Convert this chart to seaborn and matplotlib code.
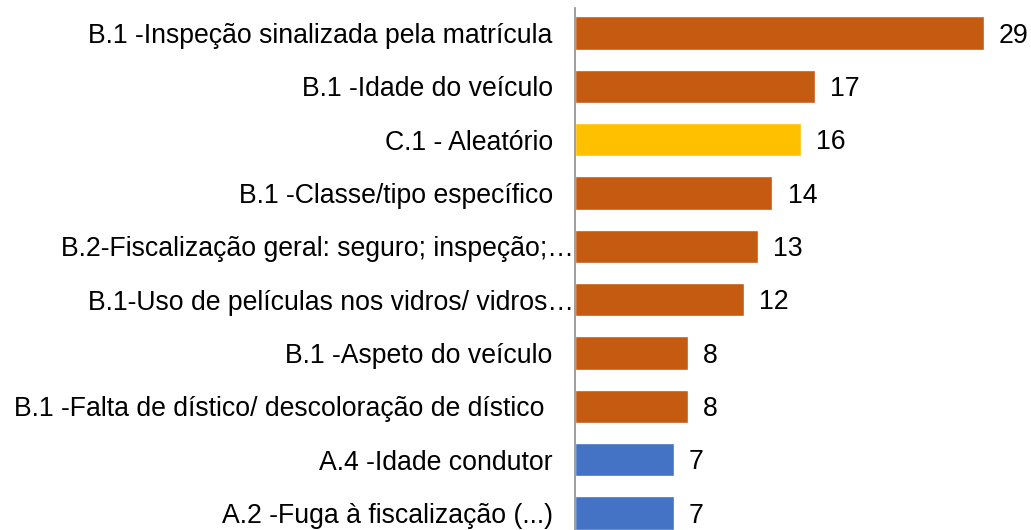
import matplotlib
matplotlib.use("Agg")
import matplotlib.pyplot as plt
import seaborn as sns
import pandas as pd

categories = [
    "B.1 -Inspeção sinalizada pela matrícula",
    "B.1 -Idade do veículo",
    "C.1 - Aleatório",
    "B.1 -Classe/tipo específico",
    "B.2-Fiscalização geral: seguro; inspeção;…",
    "B.1-Uso de películas nos vidros/ vidros…",
    "B.1 -Aspeto do veículo",
    "B.1 -Falta de dístico/ descoloração de dístico",
    "A.4 -Idade condutor",
    "A.2 -Fuga à fiscalização (...)",
]
values = [29, 17, 16, 14, 13, 12, 8, 8, 7, 7]
groups = ["B", "B", "C", "B", "B", "B", "B", "B", "A", "A"]
palette = {"A": "#4472C4", "B": "#C55A11", "C": "#FFC000"}

df = pd.DataFrame({"cat": categories, "val": values, "grp": groups})

sns.set_theme(style="white")
plt.rcParams["font.family"] = ["Liberation Sans", "DejaVu Sans"]

fig = plt.figure(figsize=(10.31, 5.30), dpi=100)
ax = fig.add_axes([575 / 1031, 0.0, 451 / 1031, 1 - 8 / 530])

sns.barplot(data=df, y="cat", x="val", hue="grp", palette=palette,
            dodge=False, orient="h", width=0.62, legend=False, ax=ax,
            saturation=1)

ax.set_xlim(0, 32)
ax.set_ylim(9 + 0.319, -0.469)
ax.set_xlabel("")
ax.set_ylabel("")
ax.set_xticks([])
for s in ["top", "right", "bottom"]:
    ax.spines[s].set_visible(False)
ax.spines["left"].set_color("#8c8c8c")
ax.spines["left"].set_linewidth(1.2)

ax.tick_params(axis="y", length=0, labelsize=19.2, labelcolor="black")
ticks = ax.yaxis.get_major_ticks()
for i, t in enumerate(ticks):
    if categories[i].endswith("…"):
        t.set_pad(1)
    elif "Falta" in categories[i]:
        t.set_pad(22)
    else:
        t.set_pad(16)

for container in ax.containers:
    texts = ax.bar_label(container,
                         labels=[f"{v:g}" for v in container.datavalues],
                         padding=11, fontsize=19.2, color="black")
    for t in texts:
        t.xyann = (11, -2)

fig.savefig("out.png", dpi=100)
